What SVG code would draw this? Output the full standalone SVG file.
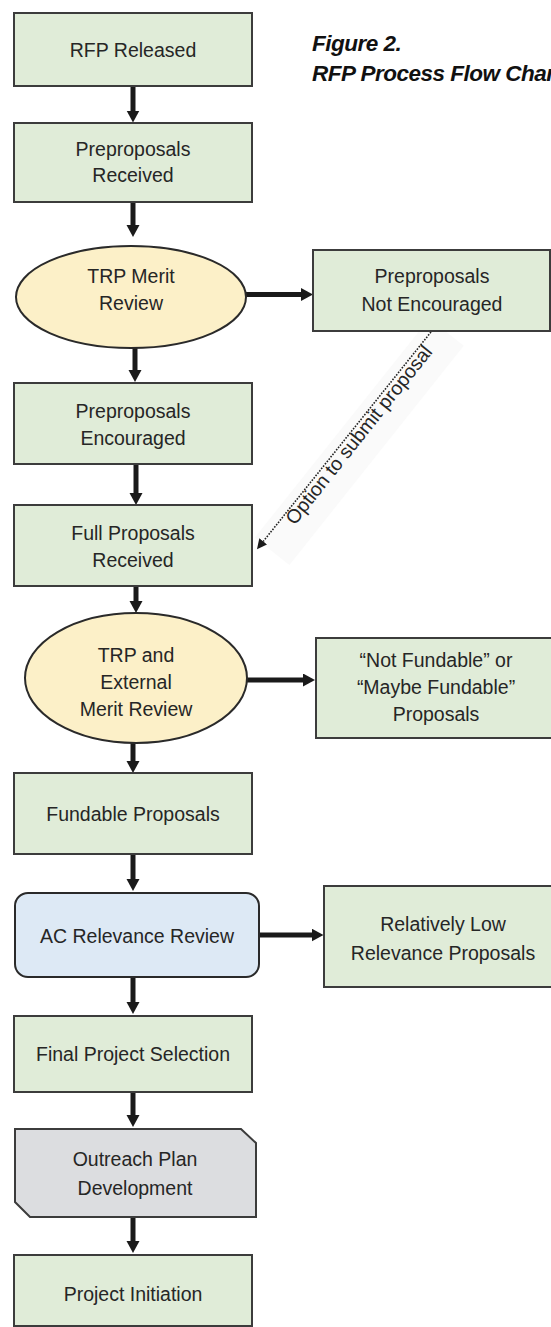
<svg xmlns="http://www.w3.org/2000/svg" width="551" height="1327" viewBox="0 0 551 1327">
<style>
.box{fill:#e0ecd8;stroke:#3c3c3c;stroke-width:2}
.dec{fill:#fcf0c8;stroke:#2a2a2a;stroke-width:2}
.rev{fill:#dde9f5;stroke:#2a2a2a;stroke-width:2}
.out{fill:#dcdde0;stroke:#3c3c3c;stroke-width:2}
.t{font-family:"Liberation Sans",Arial,sans-serif;font-size:19.5px;fill:#262626;text-anchor:middle}
.title{font-family:"Liberation Sans",Arial,sans-serif;font-size:22.5px;font-weight:bold;font-style:italic;fill:#111;letter-spacing:-0.5px}
.arr{stroke:#1a1a1a;stroke-width:5;fill:none;marker-end:url(#ah)}
.dot{stroke:#222;stroke-width:1.6;stroke-dasharray:1.6 1.4;fill:none;marker-end:url(#ahs)}
</style>
<defs>
<marker id="ah" markerUnits="userSpaceOnUse" markerWidth="14" markerHeight="14" refX="2" refY="6.5" orient="auto">
<path d="M0,0 L12,6.5 L0,13 Z" fill="#1a1a1a"/>
</marker>
<marker id="ahs" markerUnits="userSpaceOnUse" markerWidth="12" markerHeight="12" refX="1" refY="5" orient="auto">
<path d="M0,0 L10,5 L0,10 Z" fill="#1a1a1a"/>
</marker>
</defs>
<rect width="551" height="1327" fill="#fff"/>

<g id="title">
<text class="title" x="312" y="51">Figure 2.</text>
<text class="title" x="312" y="81">RFP Process Flow Chart</text>
</g>

<g id="label-option">
<g transform="translate(364,439) rotate(-51.5)">
<rect x="-145" y="-24" width="280" height="44" fill="#fafafa"/>
</g>
</g>

<g id="connectors">
<line class="arr" x1="133" y1="86" x2="133" y2="112.5"/>
<line class="arr" x1="133" y1="202" x2="133" y2="227"/>
<line class="arr" x1="246" y1="294.5" x2="303" y2="294.5"/>
<line class="arr" x1="135" y1="348" x2="135" y2="372"/>
<line class="arr" x1="136" y1="464" x2="136" y2="495"/>
<line class="arr" x1="136" y1="586" x2="136" y2="603"/>
<line class="arr" x1="246" y1="680" x2="305" y2="680"/>
<line class="arr" x1="133" y1="743" x2="133" y2="763"/>
<line class="arr" x1="133" y1="854" x2="133" y2="881"/>
<line class="arr" x1="259" y1="935" x2="313.5" y2="935"/>
<line class="arr" x1="133" y1="977" x2="133" y2="1004"/>
<line class="arr" x1="133" y1="1092" x2="133" y2="1117"/>
<line class="arr" x1="133" y1="1217" x2="133" y2="1243"/>
<line class="dot" x1="431" y1="332" x2="262.6" y2="542.2"/>
</g>

<g id="label-option-text">
<text class="t" transform="translate(364,439) rotate(-51.5)" x="0" y="0">Option to submit proposal</text>
</g>

<g id="n-rfp-released">
<rect class="box" x="14" y="13" width="238" height="73"/>
<text class="t" x="133" y="57">RFP Released</text>
</g>
<g id="n-preproposals-received">
<rect class="box" x="14" y="123" width="238" height="79"/>
<text class="t" x="133" y="156">Preproposals</text>
<text class="t" x="133" y="182">Received</text>
</g>
<g id="n-trp-merit-review">
<ellipse class="dec" cx="131" cy="297" rx="115" ry="51"/>
<text class="t" x="131" y="283">TRP Merit</text>
<text class="t" x="131" y="310">Review</text>
</g>
<g id="n-not-encouraged">
<rect class="box" x="313" y="250" width="237" height="81"/>
<text class="t" x="432" y="283">Preproposals</text>
<text class="t" x="432" y="311">Not Encouraged</text>
</g>
<g id="n-encouraged">
<rect class="box" x="14" y="383" width="238" height="81"/>
<text class="t" x="133" y="418">Preproposals</text>
<text class="t" x="133" y="445">Encouraged</text>
</g>
<g id="n-full-proposals">
<rect class="box" x="14" y="505" width="238" height="81"/>
<text class="t" x="133" y="540">Full Proposals</text>
<text class="t" x="133" y="567">Received</text>
</g>
<g id="n-trp-external-review">
<ellipse class="dec" cx="136" cy="678" rx="111" ry="65"/>
<text class="t" x="136" y="662">TRP and</text>
<text class="t" x="136" y="689">External</text>
<text class="t" x="136" y="716">Merit Review</text>
</g>
<g id="n-not-fundable">
<rect class="box" x="316" y="638" width="240" height="100"/>
<text class="t" x="436" y="667">“Not Fundable” or</text>
<text class="t" x="436" y="694">“Maybe Fundable”</text>
<text class="t" x="436" y="721">Proposals</text>
</g>
<g id="n-fundable">
<rect class="box" x="14" y="773" width="238" height="81"/>
<text class="t" x="133" y="821">Fundable Proposals</text>
</g>
<g id="n-ac-review">
<rect class="rev" x="15" y="893" width="244" height="84" rx="13" ry="13"/>
<text class="t" x="137" y="943">AC Relevance Review</text>
</g>
<g id="n-low-relevance">
<rect class="box" x="324" y="886" width="238" height="101"/>
<text class="t" x="443" y="931">Relatively Low</text>
<text class="t" x="443" y="960">Relevance Proposals</text>
</g>
<g id="n-final-selection">
<rect class="box" x="14" y="1016" width="238" height="76"/>
<text class="t" x="133" y="1061">Final Project Selection</text>
</g>
<g id="n-outreach">
<path class="out" d="M15,1129 H241 L256,1143 V1217 H30 L15,1202 Z"/>
<text class="t" x="135" y="1166">Outreach Plan</text>
<text class="t" x="135" y="1195">Development</text>
</g>
<g id="n-project-initiation">
<rect class="box" x="14" y="1255" width="238" height="71"/>
<text class="t" x="133" y="1301">Project Initiation</text>
</g>
</svg>
